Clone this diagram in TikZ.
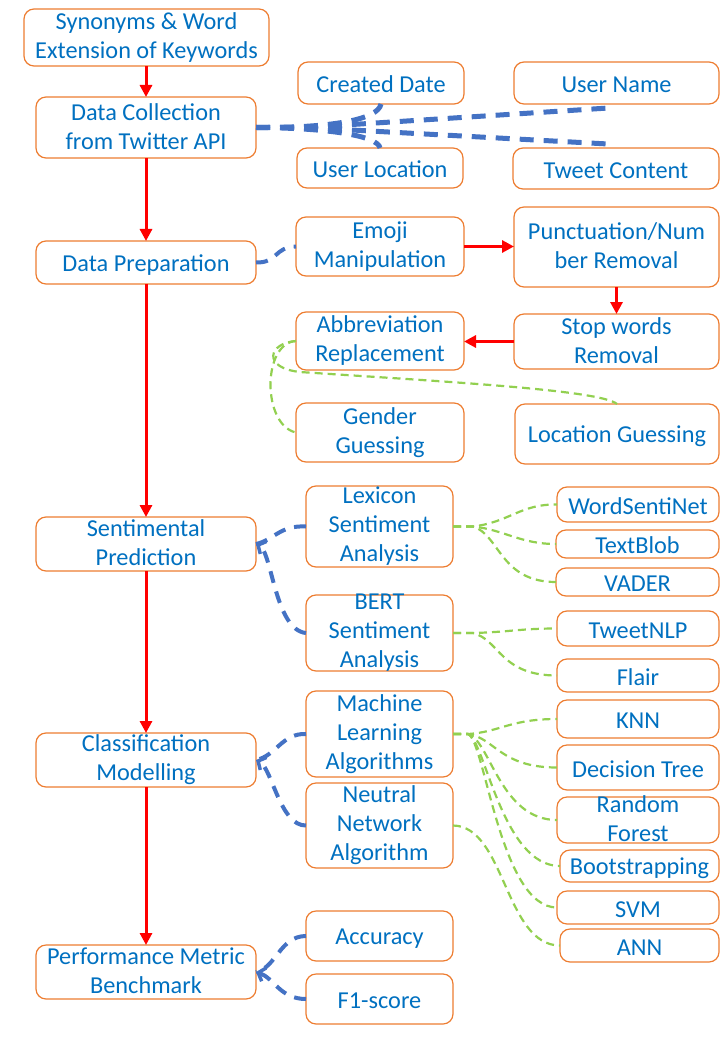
\documentclass[tikz,border=0pt]{standalone}
\usepackage{fontspec}
\setmainfont{Carlito}
\usetikzlibrary{arrows.meta}
\definecolor{boxorange}{HTML}{ED7D31}
\definecolor{txtblue}{HTML}{0070C0}
\definecolor{lineblue}{HTML}{4472C4}
\definecolor{linegreen}{HTML}{92D050}
\definecolor{arrred}{HTML}{FF0000}
\newcommand\txtstrut{\rule[-2.25pt]{0pt}{24pt}}
\tikzset{
  bxs/.style={draw=boxorange, line width=1.2pt, rounded corners=10pt, inner sep=0pt, outer sep=0pt},
  txt/.style={inner sep=0pt, align=center, text=txtblue, font=\fontsize{24.3pt}{29pt}\selectfont,
    execute at begin node=\txtstrut, execute at end node=\txtstrut},
  redarr/.style={draw=arrred, line width=3pt, -{Triangle[length=12pt,width=12pt]}},
  bthick/.style={draw=lineblue, line width=5pt, dash pattern=on 14pt off 10pt},
  bdash/.style={draw=lineblue, line width=4pt, dash pattern=on 12pt off 9pt},
  barb/.style={-{Straight Barb[length=6pt,width=14pt,line width=3.5pt]}},
  gdash/.style={draw=linegreen, line width=2.2pt, dash pattern=on 8pt off 5pt},
}
\newcommand\bx[5]{%
  \node[bxs, minimum width=#3pt, minimum height=#4pt] (#1) at (#2) {};
  \node[txt] (#1t) at (#1.center) {#5};}
\begin{document}
\begin{tikzpicture}[x=1pt,y=-1pt]
\useasboundingbox (0,0) rectangle (720,1040);
% main column
\bx{syn}{146.5,37.5}{245}{57}{Synonyms \& Word\\Extension of Keywords}
\bx{dc}{146,127.5}{220}{61}{Data Collection\\from Twitter API}
\bx{dp}{146,262.5}{220}{43}{Data Preparation}
\bx{sp}{146,544}{220}{54}{Sentimental\\Prediction}
\bx{cm}{146,760}{220}{54}{Classification\\Modelling}
\bx{pm}{146,972}{220}{54}{Performance Metric\\Benchmark}
% data collection attributes
\bx{cd}{381,83}{166}{42}{Created Date}
\bx{ul}{380,168}{166}{40}{User Location}
\bx{un}{616.5,83}{205}{42}{User Name}
\bx{tc}{616,168.5}{206}{41}{Tweet Content}
% preparation
\bx{em}{380,246.5}{168}{59}{Emoji\\Manipulation}
\bx{pn}{616.5,247}{205}{80}{Punctuation/Num\\ber Removal}
\bx{sw}{616.5,341.5}{205}{55}{Stop words\\Removal}
\bx{ab}{380,341}{168}{58}{Abbreviation\\Replacement}
\bx{gg}{380,432.5}{168}{59}{Gender\\Guessing}
\bx{lg}{617,434}{204}{60}{Location Guessing}
% sentiment
\bx{lx}{379.5,526.5}{147}{81}{Lexicon\\Sentiment\\Analysis}
\bx{bt}{379.5,633}{147}{76}{BERT\\Sentiment\\Analysis}
\bx{wsn}{638,504.5}{162}{35}{WordSentiNet}
\bx{tb}{637.5,544}{163}{28}{TextBlob}
\bx{vd}{637.5,582}{163}{28}{VADER}
\bx{tn}{638,628.5}{162}{35}{TweetNLP}
\bx{fl}{638,675.5}{162}{33}{Flair}
% classification
\bx{ml}{379.5,734}{147}{86}{Machine\\Learning\\Algorithms}
\bx{nn}{379.5,825.5}{147}{85}{Neutral\\Network\\Algorithm}
\bx{knn}{638,719}{162}{38}{KNN}
\bx{dt}{638,767.5}{162}{45}{Decision Tree}
\bx{rf}{638,820}{162}{46}{Random\\Forest}
\bx{bs}{639.5,866}{159}{32}{Bootstrapping}
\bx{svm}{638,907.5}{162}{33}{SVM}
\bx{ann}{639.5,945.5}{159}{33}{ANN}
% metrics
\bx{acc}{379.5,936}{147}{50}{Accuracy}
\bx{fone}{379.5,999}{147}{50}{F1-score}

% red flow arrows
\draw[redarr] (syn.south -| dc.north) -- (dc.north);
\draw[redarr] (dc.south) -- (dp.north);
\draw[redarr] (dp.south) -- (sp.north);
\draw[redarr] (sp.south) -- (cm.north);
\draw[redarr] (cm.south) -- (pm.north);
\draw[redarr] (em.east) -- (em.east -| pn.west);
\draw[redarr] (pn.south) -- (sw.north);
\draw[redarr] (sw.west) -- (sw.west -| ab.east);

% blue fan from data collection
\draw[bthick] (dc.east) .. controls (330,128) and (378,120) .. (cd.south);
\draw[bthick] (dc.east) .. controls (330,128) and (378,136) .. (ul.north);
\draw[bthick] (dc.east) -- +(50,0) -- ([xshift=-8pt,yshift=-4pt]un.south);
\draw[bthick] (dc.east) -- +(50,0) -- ([xshift=-8pt,yshift=4pt]tc.north);
% data prep to emoji
\draw[bdash] (dp.east) .. controls (278,263) and (274,247) .. (em.west);
% sentiment
\draw[bdash] (lx.west) .. controls (280,525) and (274,540) .. (sp.east);
\draw[bdash,barb] (bt.west) .. controls (275,630) and (272,552) .. (sp.east);
% classification
\draw[bdash] (ml.west) .. controls (282,733) and (276,756) .. (cm.east);
\draw[bdash,barb] (nn.west) .. controls (280,826) and (272,768) .. (cm.east);
% performance
\draw[bdash] (acc.west) .. controls (280,936) and (276,968) .. (pm.east);
\draw[bdash,barb] (fone.west) .. controls (280,999) and (274,978) .. (pm.east);

% green: guessing
\draw[gdash] (ab.west) .. controls (262,343) and (262,425) .. (gg.west);
\draw[gdash] (ab.west) .. controls (268,343) and (262,368) .. (300,372) .. controls (450,382) and (600,390) .. (lg.north);
% green: lexicon
\draw[gdash] (lx.east) -- +(20,0) .. controls (510,522) and (520,504) .. (wsn.west);
\draw[gdash] (lx.east) -- +(20,0) .. controls (505,530) and (520,544) .. (tb.west);
\draw[gdash] (lx.east) -- +(20,0) .. controls (500,535) and (500,582) .. (vd.west);
% green: bert
\draw[gdash] (bt.east) -- +(20,0) .. controls (510,632) and (520,628.5) .. (tn.west);
\draw[gdash] (bt.east) -- +(20,0) .. controls (500,640) and (500,675.5) .. (fl.west);
% green: machine learning
\draw[gdash] (ml.east) -- +(15,0) .. controls (500,732) and (510,719) .. (knn.west);
\draw[gdash] (ml.east) -- +(15,0) .. controls (495,738) and (500,767.5) .. (dt.west);
\draw[gdash] (ml.east) -- +(15,0) .. controls (490,740) and (500,820) .. (rf.west);
\draw[gdash] (ml.east) -- +(15,0) .. controls (485,740) and (502,866) .. (bs.west);
\draw[gdash] (ml.east) -- +(15,0) .. controls (485,740) and (500,907.5) .. (svm.west);
% green: neural network
\draw[gdash] (nn.east) .. controls (505,826) and (505,945.5) .. (ann.west);
\end{tikzpicture}
\end{document}
